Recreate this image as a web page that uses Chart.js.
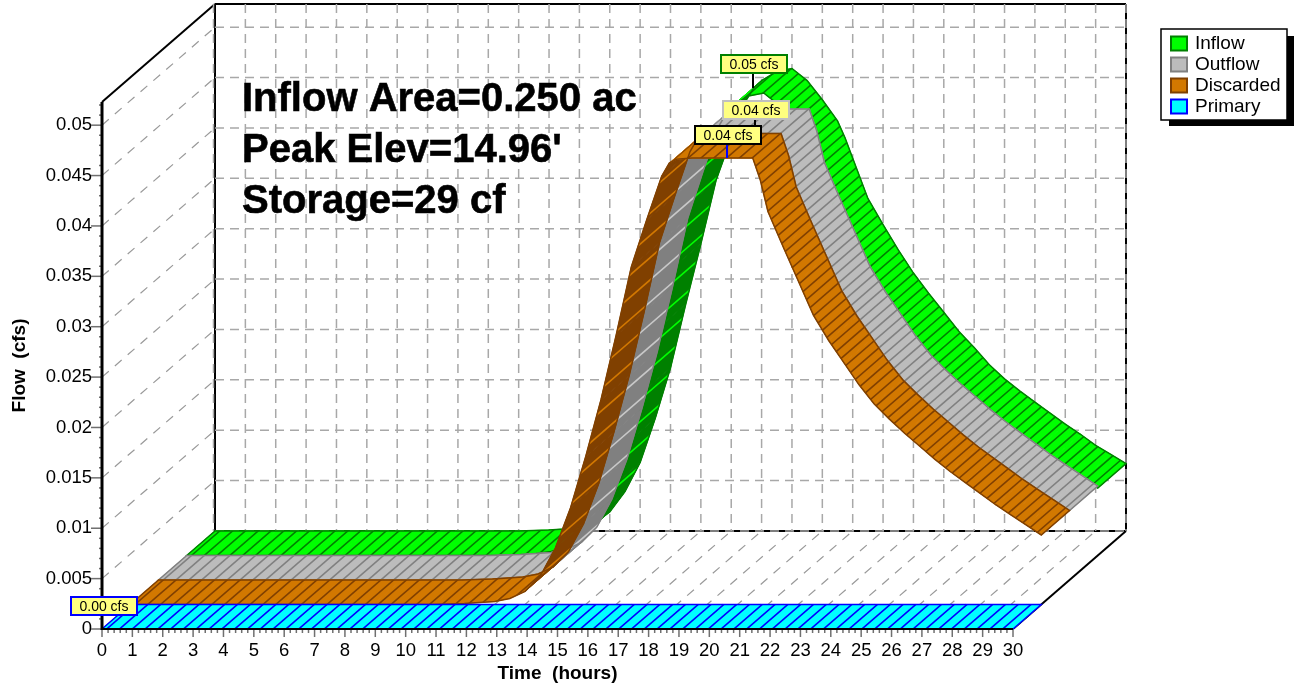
<!DOCTYPE html>
<html>
<head>
<meta charset="utf-8">
<title>Pond routing</title>
<script src="https://cdn.jsdelivr.net/npm/chart.js@4"></script>
<style>
    html, body { margin: 0; padding: 0; background: #fff; }
    canvas { display: block; }
</style>
</head>
<body>
<canvas id="routingChart" width="1294" height="684"></canvas>
<script>
const timeHours = [0, 1, 2, 3, 4, 5, 6, 7, 8, 9, 10, 11,
    11.5, 12, 12.5, 13, 13.5, 14, 14.5, 15, 15.5, 16, 16.5, 17, 17.5,
    17.75, 18, 18.5, 19, 19.5, 20, 20.5, 20.75,
    21, 21.5, 22, 22.5, 23, 23.5, 24, 24.5, 25, 25.5, 26, 26.5, 27, 27.5, 28, 28.5, 29, 29.5, 30];

const inflowFlow = [0, 0, 0, 0, 0, 0, 0, 0, 0, 0, 0, 0.0001,
    0.0002, 0.0004, 0.0009, 0.0019, 0.0039, 0.0068, 0.0112, 0.0162, 0.0225, 0.0285, 0.0348, 0.0390, 0.0428,
    0.0440, 0.0447, 0.0456, 0.0459, 0.0447, 0.0428, 0.0407, 0.0390,
    0.0370, 0.0330, 0.0304, 0.0279, 0.0256, 0.0236, 0.0217, 0.0198, 0.0182, 0.0165, 0.0151, 0.0139, 0.0128, 0.0117, 0.0106, 0.0096, 0.0085, 0.0076, 0.0067];

const outflowFlow = [0, 0, 0, 0, 0, 0, 0, 0, 0, 0, 0, 0.0001,
    0.0002, 0.0003, 0.0006, 0.0013, 0.0028, 0.0056, 0.0096, 0.0147, 0.0203, 0.0267, 0.0335, 0.0381, 0.0425,
    0.0438, 0.0442, 0.0443, 0.0443, 0.0443, 0.0443, 0.0443, 0.0421,
    0.0390, 0.0355, 0.0321, 0.0287, 0.0262, 0.0240, 0.0218, 0.0199, 0.0184, 0.0170, 0.0157, 0.0144, 0.0132, 0.0121, 0.0110, 0.0099, 0.0089, 0.0079, 0.0069];

const discardedFlow = [0, 0, 0, 0, 0, 0, 0, 0, 0, 0, 0, 0.0001,
    0.0002, 0.0003, 0.0006, 0.0013, 0.0028, 0.0056, 0.0096, 0.0147, 0.0203, 0.0267, 0.0335, 0.0381, 0.0425,
    0.0438, 0.0442, 0.0443, 0.0443, 0.0443, 0.0443, 0.0443, 0.0421,
    0.0390, 0.0355, 0.0321, 0.0287, 0.0262, 0.0240, 0.0218, 0.0199, 0.0184, 0.0170, 0.0157, 0.0144, 0.0132, 0.0121, 0.0110, 0.0099, 0.0089, 0.0079, 0.0069];

const primaryFlow = timeHours.map(() => 0);

const seriesNames = ['Inflow', 'Outflow', 'Discarded', 'Primary'];
const seriesValues = [inflowFlow, outflowFlow, discardedFlow, primaryFlow];
const xTickValues = Array.from({length: 31}, (_, i) => i);
const yTickValues = [0, 0.005, 0.01, 0.015, 0.02, 0.025, 0.03, 0.035, 0.04, 0.045, 0.05];
const yMax = 0.0523;
const infoLines = ['Inflow Area=0.250 ac', "Peak Elev=14.96'", 'Storage=29 cf'];

// fill, shaded fill (underside), hatch/outline
const seriesColors = [
    {fill: '#00ff00', under: '#008000', line: '#008000', light: '#00ff00'},
    {fill: '#bcbcbc', under: '#808080', line: '#808080', light: '#c8c8c8'},
    {fill: '#d27800', under: '#804000', line: '#804000', light: '#d27800'},
    {fill: '#00ffff', under: '#0000ff', line: '#0000ff', light: '#00ffff'}
];

// how far the whole depth of the chart shifts on screen
const depthX = 113;
const depthY = -98;
const ribbonCount = seriesNames.length;

const peakBoxes = [
    {text: '0.05 cfs', x: 721, y: 55, border: '#008000', tick: '#000', tx: 753, t0: 74, t1: 88},
    {text: '0.04 cfs', x: 723, y: 101, border: '#c0c0c0', tick: '#000', tx: 755, t0: 120, t1: 126},
    {text: '0.04 cfs', x: 695, y: 126, border: '#000', tick: '#0000ff', tx: 727, t0: 145, t1: 158},
    {text: '0.00 cfs', x: 71, y: 597, border: '#0000ff', tick: '#0000ff', tx: 103, t0: 616, t1: 616}
];

function strokeLine(ctx, x0, y0, x1, y1) {
    ctx.beginPath();
    ctx.moveTo(x0, y0);
    ctx.lineTo(x1, y1);
    ctx.stroke();
}

function drawWalls(chart) {
    const ctx = chart.ctx;
    const xs = chart.scales.x;
    const ys = chart.scales.y;
    const left = xs.getPixelForValue(0), right = xs.getPixelForValue(30);
    const bottom = ys.getPixelForValue(0), top = chart.chartArea.top;

    ctx.save();
    ctx.strokeStyle = '#000';
    ctx.lineWidth = 2;
    strokeLine(ctx, left, top, left + depthX, top + depthY);
    strokeLine(ctx, left + depthX, top + depthY, right + depthX, top + depthY);
    strokeLine(ctx, left + depthX, top + depthY, left + depthX, bottom + depthY);
    strokeLine(ctx, left + depthX, bottom + depthY, right + depthX, bottom + depthY);
    strokeLine(ctx, right + depthX, top + depthY, right + depthX, bottom + depthY);
    strokeLine(ctx, right, bottom, right + depthX, bottom + depthY);

    // back wall
    ctx.strokeStyle = '#a8a8a8';
    ctx.lineWidth = 1.5;
    ctx.setLineDash([9, 6]);
    xTickValues.forEach(v => {
        const px = xs.getPixelForValue(v) + depthX - (v === 0 ? 1.5 : 0);
        strokeLine(ctx, px, top + depthY, px, bottom + depthY);
    });
    yTickValues.forEach(v => {
        const py = ys.getPixelForValue(v) + depthY;
        strokeLine(ctx, left + depthX, py, right + depthX, py);
    });

    // side wall and floor
    ctx.strokeStyle = '#999';
    ctx.lineWidth = 1.2;
    ctx.setLineDash([9, 8]);
    yTickValues.forEach(v => {
        const py = ys.getPixelForValue(v);
        if (v > 0) strokeLine(ctx, left, py, left + depthX, py + depthY);
    });
    xTickValues.forEach(v => {
        const px = xs.getPixelForValue(v);
        if (v > 0 && v < 30) strokeLine(ctx, px, bottom, px + depthX, bottom + depthY);
    });
    ctx.restore();
}

function tracePath(ctx, quad) {
    ctx.moveTo(quad[0].x, quad[0].y);
    for (let i = 1; i < quad.length; i++) ctx.lineTo(quad[i].x, quad[i].y);
    ctx.closePath();
}

function hatch(ctx, quads, color, width, step) {
    if (!quads.length) return;
    ctx.save();
    ctx.beginPath();
    quads.forEach(q => tracePath(ctx, q));
    ctx.clip();
    ctx.strokeStyle = color;
    ctx.lineWidth = width;
    ctx.setLineDash([]);
    // lines run along the depth direction
    const slant = 684 * depthX / -depthY;
    for (let c = 0; c < 2400; c += step) {
        strokeLine(ctx, c, 0, c - slant, 684);
    }
    ctx.restore();
}

function drawRibbon(chart, index) {
    const ctx = chart.ctx;
    const points = chart.getDatasetMeta(index).data;
    const colors = seriesColors[index];
    const near = (ribbonCount - 1 - index) / ribbonCount;
    const far = (ribbonCount - index) / ribbonCount;
    const front = points.map(p => ({x: p.x + depthX * near, y: p.y + depthY * near}));
    const back = points.map(p => ({x: p.x + depthX * far, y: p.y + depthY * far}));

    const topQuads = [];
    const underQuads = [];
    for (let i = 0; i < front.length - 1; i++) {
        const quad = [front[i], front[i + 1], back[i + 1], back[i]];
        const ax = front[i + 1].x - front[i].x;
        const ay = front[i + 1].y - front[i].y;
        // steeper than the depth direction means we see the underside
        const under = ax * depthY - ay * depthX > 0;
        (under ? underQuads : topQuads).push(quad);
        ctx.beginPath();
        tracePath(ctx, quad);
        ctx.fillStyle = under ? colors.under : colors.fill;
        ctx.strokeStyle = ctx.fillStyle;
        ctx.lineWidth = 1;
        ctx.fill();
        ctx.stroke();
    }
    hatch(ctx, topQuads, colors.line, 1.6, 12.8);
    hatch(ctx, underQuads, colors.light, 1.6, 25.6);

    ctx.strokeStyle = colors.line;
    ctx.lineWidth = 1.5;
    ctx.beginPath();
    tracePath(ctx, front.concat(back.slice().reverse()));
    ctx.stroke();
}

function drawAxisMarks(chart) {
    const ctx = chart.ctx;
    const xs = chart.scales.x;
    const ys = chart.scales.y;
    const left = xs.getPixelForValue(0), right = xs.getPixelForValue(30);
    const bottom = ys.getPixelForValue(0), top = chart.chartArea.top;

    ctx.save();
    ctx.strokeStyle = '#707070';
    ctx.lineWidth = 1.5;
    for (let i = 0; i <= 52; i++) {
        const py = ys.getPixelForValue(i * 0.001);
        strokeLine(ctx, left - (i % 5 === 0 ? 11 : 3), py, left, py);
    }
    for (let i = 0; i <= 150; i++) {
        const px = xs.getPixelForValue(i * 0.2);
        strokeLine(ctx, px, bottom, px, bottom + (i % 5 === 0 ? 8 : 4));
    }
    ctx.strokeStyle = '#000';
    ctx.lineWidth = 3;
    strokeLine(ctx, left, top, left, bottom + 1);
    ctx.lineWidth = 2;
    strokeLine(ctx, left, bottom, right, bottom);
    ctx.restore();
}

function drawNotes(chart) {
    const ctx = chart.ctx;
    ctx.save();

    ctx.fillStyle = '#000';
    ctx.strokeStyle = '#000';
    ctx.lineWidth = 0.6;
    ctx.font = 'bold 40px "Liberation Sans", Arial, sans-serif';
    ctx.textBaseline = 'alphabetic';
    ctx.textAlign = 'left';
    infoLines.forEach((line, i) => {
        ctx.fillText(line, 242, 111 + i * 51);
        ctx.strokeText(line, 242, 111 + i * 51);
    });

    peakBoxes.forEach(box => {
        ctx.strokeStyle = box.tick;
        ctx.lineWidth = 2;
        strokeLine(ctx, box.tx, box.t0, box.tx, box.t1);
        ctx.fillStyle = '#ffff80';
        ctx.fillRect(box.x, box.y, 66, 18);
        ctx.strokeStyle = box.border;
        ctx.strokeRect(box.x, box.y, 66, 18);
        ctx.fillStyle = '#000';
        ctx.font = '14px "Liberation Sans", Arial, sans-serif';
        ctx.textAlign = 'center';
        ctx.textBaseline = 'middle';
        ctx.fillText(box.text, box.x + 33, box.y + 10);
    });

    // legend box with its drop shadow
    ctx.fillStyle = '#000';
    ctx.fillRect(1169, 36, 125, 90);
    ctx.fillStyle = '#fff';
    ctx.fillRect(1161, 29, 126, 91);
    ctx.strokeStyle = '#000';
    ctx.lineWidth = 1.5;
    ctx.strokeRect(1161, 29, 126, 91);
    ctx.font = '19px "Liberation Sans", Arial, sans-serif';
    ctx.textAlign = 'left';
    ctx.textBaseline = 'middle';
    seriesNames.forEach((name, i) => {
        const rowY = 43.5 + i * 21;
        ctx.fillStyle = seriesColors[i].fill;
        ctx.fillRect(1171, rowY - 7, 16, 14);
        ctx.strokeStyle = seriesColors[i].line;
        ctx.lineWidth = 2;
        ctx.strokeRect(1171, rowY - 7, 16, 14);
        ctx.fillStyle = '#000';
        ctx.fillText(name, 1195, rowY);
    });
    ctx.restore();
}

const pseudo3d = {
    id: 'pseudo3d',
    beforeDatasetsDraw(chart) {
        drawWalls(chart);
        seriesNames.forEach((_, i) => drawRibbon(chart, i));
        drawAxisMarks(chart);
    },
    afterDraw(chart) {
        drawNotes(chart);
    }
};

new Chart(document.getElementById('routingChart').getContext('2d'), {
    type: 'scatter',
    plugins: [pseudo3d],
    data: {
        datasets: seriesNames.map((name, i) => ({
            label: name,
            data: timeHours.map((t, j) => ({x: t, y: seriesValues[i][j]})),
            showLine: false,
            pointRadius: 0,
            pointHoverRadius: 0
        }))
    },
    options: {
        responsive: false,
        animation: false,
        events: [],
        layout: {padding: {top: 102, right: 281, bottom: 0, left: 0}},
        plugins: {legend: {display: false}, tooltip: {enabled: false}},
        scales: {
            x: {
                type: 'linear',
                min: 0,
                max: 30,
                afterFit: scale => { scale.height = 55; },
                afterBuildTicks: scale => { scale.ticks = xTickValues.map(v => ({value: v})); },
                grid: {display: false, drawTicks: false},
                border: {display: false},
                ticks: {
                    autoSkip: false,
                    maxRotation: 0,
                    padding: 11,
                    color: '#000',
                    font: {family: '"Liberation Sans", Arial, sans-serif', size: 18.5},
                    callback: v => String(v)
                },
                title: {
                    display: true,
                    text: 'Time  (hours)',
                    color: '#000',
                    padding: {top: 0, bottom: -1},
                    font: {family: '"Liberation Sans", Arial, sans-serif', size: 19, weight: 'bold'}
                }
            },
            y: {
                min: 0,
                max: yMax,
                afterFit: scale => { scale.width = 102; },
                afterBuildTicks: scale => { scale.ticks = yTickValues.map(v => ({value: v})); },
                grid: {display: false, drawTicks: false},
                border: {display: false},
                ticks: {
                    autoSkip: false,
                    padding: 10,
                    color: '#000',
                    font: {family: '"Liberation Sans", Arial, sans-serif', size: 18.5},
                    callback: v => String(v)
                },
                title: {
                    display: true,
                    text: 'Flow  (cfs)',
                    color: '#000',
                    padding: {top: 8, bottom: 0},
                    font: {family: '"Liberation Sans", Arial, sans-serif', size: 19, weight: 'bold'}
                }
            }
        }
    }
});
</script>
</body>
</html>
